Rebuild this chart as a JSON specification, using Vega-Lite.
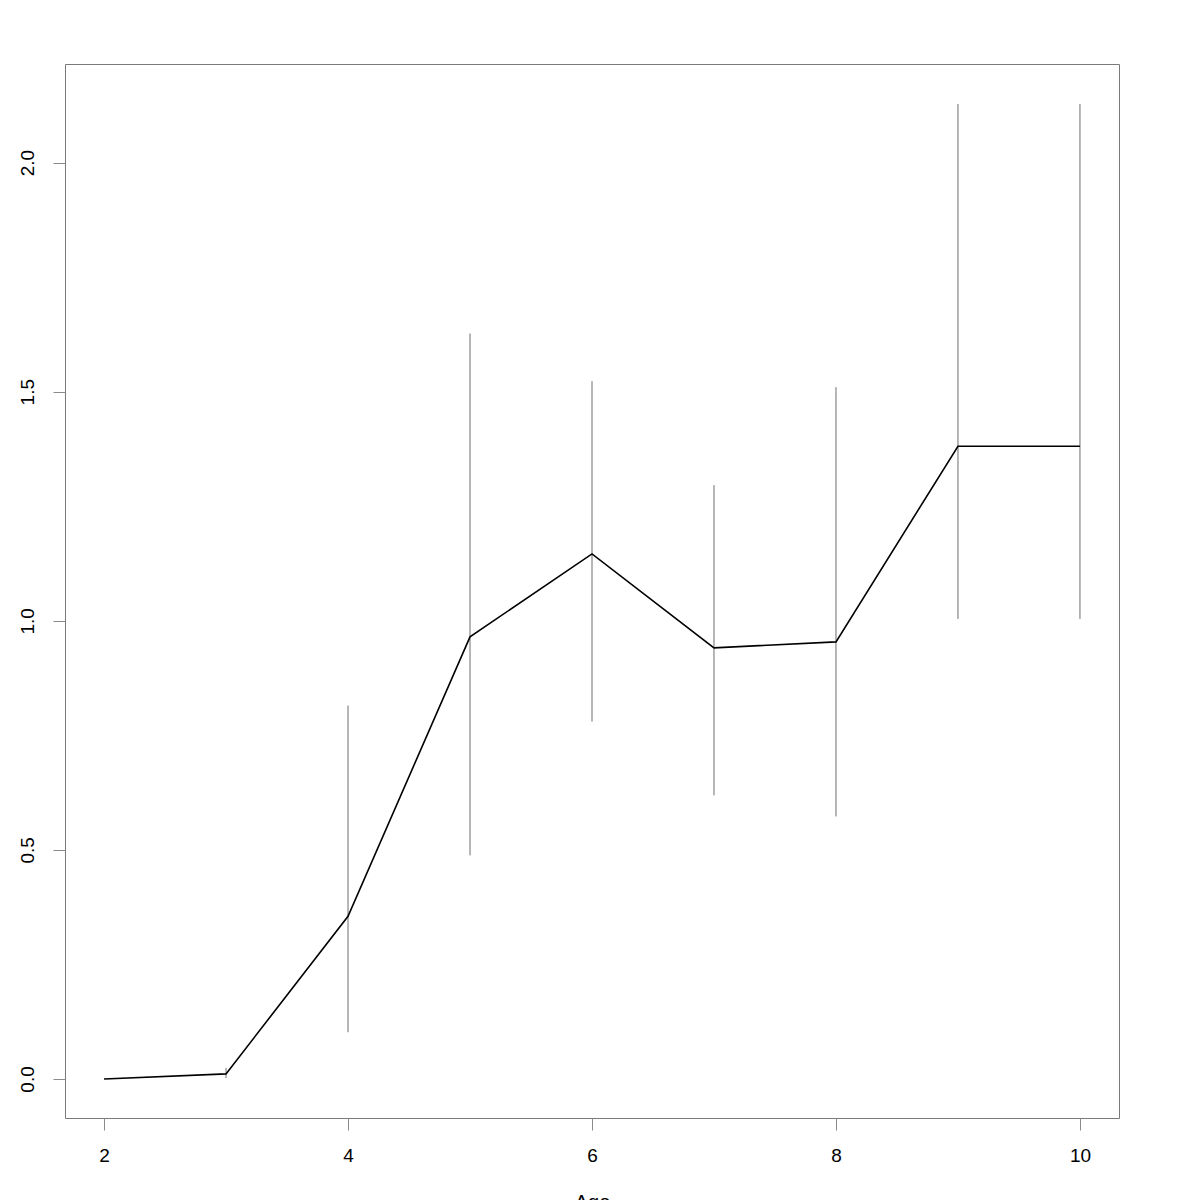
{
  "$schema": "https://vega.github.io/schema/vega-lite/v6.json",
  "width": 1054,
  "height": 1054,
  "autosize": {"type": "none"},
  "padding": {"left": 65, "top": 64, "right": 81, "bottom": 82},
  "background": "white",
  "config": {
    "view": {"stroke": "#7a7a7a", "strokeWidth": 1},
    "font": "Liberation Sans",
    "axis": {
      "grid": false,
      "domain": false,
      "tickColor": "#8a8a8a",
      "tickSize": 12,
      "tickWidth": 1,
      "labelFont": "Liberation Sans",
      "labelFontSize": 19,
      "labelColor": "black",
      "titleFont": "Liberation Sans",
      "titleFontSize": 20,
      "titleFontWeight": "normal",
      "titleColor": "black"
    }
  },
  "data": {
    "values": [
      {"Age": 2, "mean": 0.0, "lo": 0.0, "hi": 0.0},
      {"Age": 3, "mean": 0.011, "lo": 0.002, "hi": 0.024},
      {"Age": 4, "mean": 0.355, "lo": 0.102, "hi": 0.815},
      {"Age": 5, "mean": 0.965, "lo": 0.488, "hi": 1.627},
      {"Age": 6, "mean": 1.146, "lo": 0.780, "hi": 1.523},
      {"Age": 7, "mean": 0.941, "lo": 0.619, "hi": 1.296},
      {"Age": 8, "mean": 0.954, "lo": 0.573, "hi": 1.510},
      {"Age": 9, "mean": 1.381, "lo": 1.004, "hi": 2.128},
      {"Age": 10, "mean": 1.381, "lo": 1.004, "hi": 2.128}
    ]
  },
  "layer": [
    {
      "mark": {"type": "rule", "color": "#6e6e6e", "strokeWidth": 1},
      "encoding": {
        "x": {
          "field": "Age",
          "type": "quantitative",
          "scale": {"domain": [1.68, 10.32], "nice": false, "zero": false},
          "axis": {"values": [2, 4, 6, 8, 10], "title": "Age", "labelPadding": 16, "titlePadding": 27, "format": "d"}
        },
        "y": {
          "field": "lo",
          "type": "quantitative",
          "scale": {"domain": [-0.0852, 2.2152], "nice": false, "zero": false},
          "axis": {"values": [0, 0.5, 1, 1.5, 2], "format": ".1f", "title": null, "labelAngle": -90, "labelPadding": 16}
        },
        "y2": {"field": "hi"}
      }
    },
    {
      "mark": {"type": "line", "color": "black", "strokeWidth": 1.6},
      "encoding": {
        "x": {"field": "Age", "type": "quantitative"},
        "y": {"field": "mean", "type": "quantitative"}
      }
    }
  ]
}
